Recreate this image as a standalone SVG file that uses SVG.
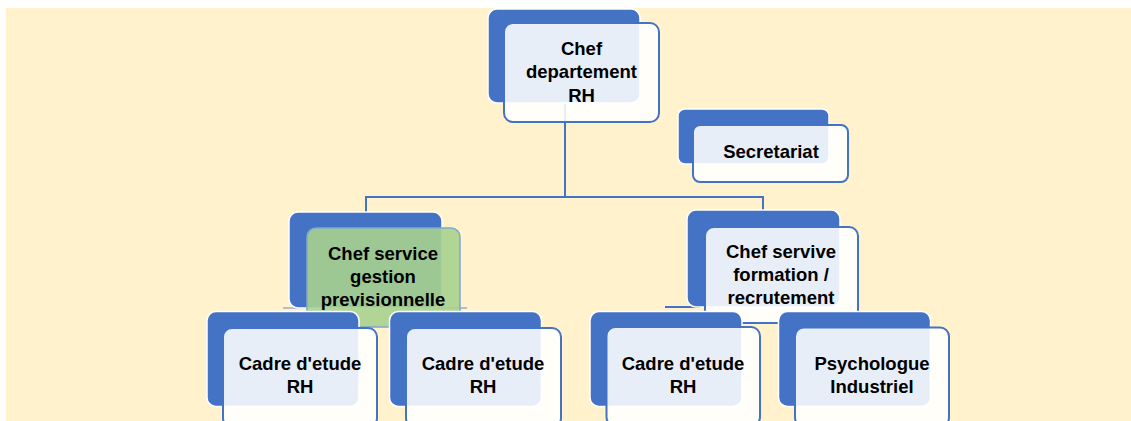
<svg xmlns="http://www.w3.org/2000/svg" width="1131" height="421" viewBox="0 0 1131 421">
<style>
.bg{fill:#FFF2CC}
.back{fill:#4472C4;stroke:#FFFFFF;stroke-width:1.5}
.front{fill:#FFFFFF;fill-opacity:0.88;stroke:#4472C4;stroke-width:2}
.green{fill:#A9D18E;fill-opacity:0.9;stroke:#7FA8C9;stroke-width:1.5}
.conn{fill:none;stroke:#4472C4;stroke-width:2}
.lbl{font-family:"Liberation Sans",Arial,sans-serif;font-weight:bold;font-size:18.5px;fill:#000000;text-anchor:middle}
</style>
<rect x="0" y="0" width="1131" height="421" fill="#FFFFFF"/>
<rect class="bg" x="6" y="8" width="1125" height="413"/>
<g id="connectors">
<path class="conn" d="M565,103 V197 M366,197 H763 M366,196 V213 M763,196 V211"/>
<path class="conn" d="M283,308 H467" stroke-opacity="0.4"/>
<path class="conn" d="M665,307 H700"/>
</g>
<g id="chef-departement">
<rect class="back" x="488" y="9" width="152" height="94" rx="9"/>
<rect class="front" x="504" y="23" width="155" height="99" rx="9"/>
<text class="lbl" x="581.5" y="55">Chef</text>
<text class="lbl" x="581.5" y="78">departement</text>
<text class="lbl" x="581.5" y="102">RH</text>
</g>
<g id="secretariat">
<rect class="back" x="678" y="109" width="151" height="55" rx="7"/>
<rect class="front" x="693" y="125" width="155" height="57" rx="7"/>
<text class="lbl" x="771" y="158">Secretariat</text>
</g>
<g id="chef-service-gestion">
<rect class="back" x="289" y="212" width="153" height="96" rx="9"/>
<rect class="green" x="307" y="228" width="153" height="99" rx="9"/>
<text class="lbl" x="383" y="260">Chef service</text>
<text class="lbl" x="383" y="283">gestion</text>
<text class="lbl" x="383" y="306">previsionnelle</text>
</g>
<g id="chef-servive-formation">
<rect class="back" x="687" y="210" width="153" height="97" rx="9"/>
<rect class="front" x="705" y="227" width="153" height="96" rx="9"/>
<text class="lbl" x="781" y="258">Chef servive</text>
<text class="lbl" x="781" y="281">formation /</text>
<text class="lbl" x="781" y="304">recrutement</text>
</g>
<g id="cadre-1">
<rect class="back" x="207" y="311.5" width="152" height="95" rx="9"/>
<rect class="front" x="223" y="328" width="154" height="99" rx="9"/>
<text class="lbl" x="300" y="370">Cadre d'etude</text>
<text class="lbl" x="300" y="393">RH</text>
</g>
<g id="cadre-2">
<rect class="back" x="389.5" y="311.5" width="152" height="95" rx="9"/>
<rect class="front" x="406" y="328" width="155" height="99" rx="9"/>
<text class="lbl" x="483" y="370">Cadre d'etude</text>
<text class="lbl" x="483" y="393">RH</text>
</g>
<g id="cadre-3">
<rect class="back" x="590" y="311.5" width="152" height="95" rx="9"/>
<rect class="front" x="606.5" y="327" width="153.5" height="99" rx="9"/>
<text class="lbl" x="683" y="370">Cadre d'etude</text>
<text class="lbl" x="683" y="393">RH</text>
</g>
<g id="psychologue">
<rect class="back" x="778.5" y="311.5" width="152" height="95" rx="9"/>
<rect class="front" x="795" y="327.5" width="154" height="99" rx="9"/>
<text class="lbl" x="872" y="370">Psychologue</text>
<text class="lbl" x="872" y="393">Industriel</text>
</g>
</svg>
